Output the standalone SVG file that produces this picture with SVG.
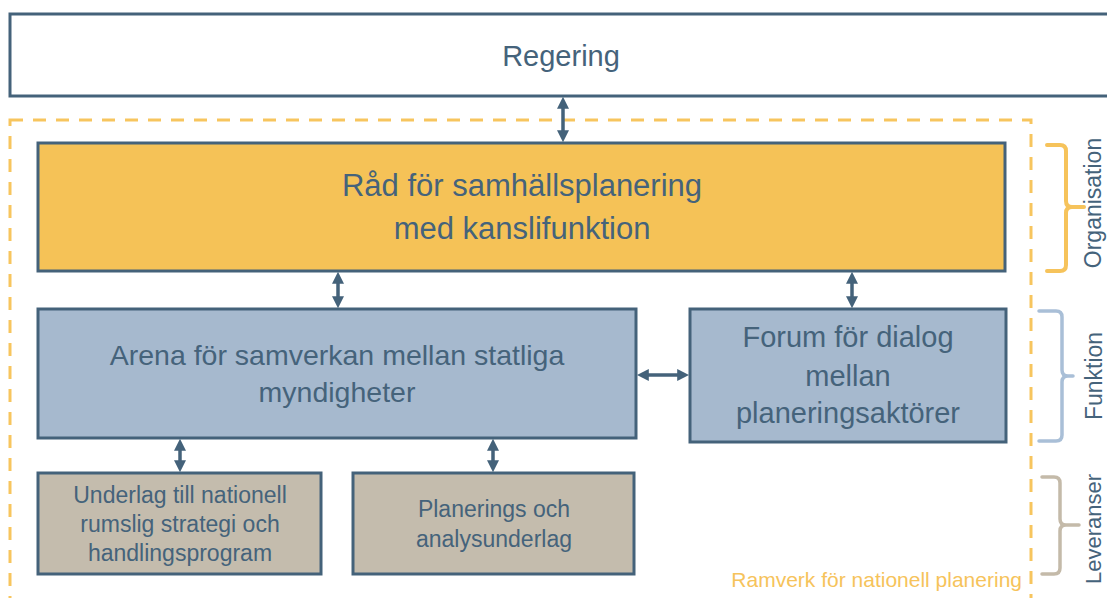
<svg xmlns="http://www.w3.org/2000/svg" width="1107" height="598" viewBox="0 0 1107 598">
<style>
.box{stroke:#44627A;stroke-width:3}
.t{font-family:"Liberation Sans",Arial,sans-serif;fill:#45637B;text-anchor:middle}
.conn{stroke:#44627A;stroke-width:3.5;fill:none}
.br{fill:none;stroke-linecap:round;stroke-linejoin:round}
</style>
<defs>
<marker id="ah" viewBox="0 0 10 10" refX="4" refY="5" markerWidth="12" markerHeight="12" markerUnits="userSpaceOnUse" orient="auto-start-reverse">
<path d="M0,0 L10,5 L0,10 z" fill="#44627A"/>
</marker>
</defs>
<rect width="1107" height="598" fill="#ffffff"/>
<g id="regering">
<rect class="box" x="10" y="14" width="1120" height="82" fill="#ffffff"/>
<text class="t" x="561" y="66" font-size="29">Regering</text>
</g>
<g id="ramverk">
<rect x="10" y="120" width="1021" height="500" fill="none" stroke="#F7C55E" stroke-width="3" stroke-dasharray="13 10"/>
<text x="1022" y="587" font-family="'Liberation Sans',Arial,sans-serif" font-size="21" fill="#F6C35B" text-anchor="end">Ramverk för nationell planering</text>
</g>
<g id="rad">
<rect class="box" x="38" y="143" width="967" height="128" fill="#F5C257"/>
<text class="t" x="522" y="196" font-size="31">Råd för samhällsplanering</text>
<text class="t" x="522" y="239" font-size="31">med kanslifunktion</text>
</g>
<g id="arena">
<rect class="box" x="38" y="309" width="598" height="129" fill="#A6B9CE"/>
<text class="t" x="337" y="365" font-size="28.5">Arena för samverkan mellan statliga</text>
<text class="t" x="337" y="402" font-size="28.5">myndigheter</text>
</g>
<g id="forum">
<rect class="box" x="690" y="309" width="316" height="133" fill="#A6B9CE"/>
<text class="t" x="848" y="347" font-size="29">Forum för dialog</text>
<text class="t" x="848" y="386" font-size="29">mellan</text>
<text class="t" x="848" y="423" font-size="29">planeringsaktörer</text>
</g>
<g id="underlag">
<rect class="box" x="38" y="473" width="283" height="101" fill="#C4BCAD"/>
<text class="t" x="180" y="503" font-size="23">Underlag till nationell</text>
<text class="t" x="180" y="532" font-size="23">rumslig strategi och</text>
<text class="t" x="180" y="561" font-size="23">handlingsprogram</text>
</g>
<g id="planerings">
<rect class="box" x="353" y="473" width="281" height="101" fill="#C4BCAD"/>
<text class="t" x="494" y="517" font-size="23">Planerings och</text>
<text class="t" x="494" y="547" font-size="23">analysunderlag</text>
</g>
<g id="connectors">
<line class="conn" x1="563" y1="104" x2="563" y2="135" marker-start="url(#ah)" marker-end="url(#ah)"/>
<line class="conn" x1="338" y1="279" x2="338" y2="301" marker-start="url(#ah)" marker-end="url(#ah)"/>
<line class="conn" x1="852" y1="279" x2="852" y2="301" marker-start="url(#ah)" marker-end="url(#ah)"/>
<line class="conn" x1="644" y1="375" x2="682" y2="375" marker-start="url(#ah)" marker-end="url(#ah)"/>
<line class="conn" x1="180" y1="446" x2="180" y2="465" marker-start="url(#ah)" marker-end="url(#ah)"/>
<line class="conn" x1="493" y1="446" x2="493" y2="465" marker-start="url(#ah)" marker-end="url(#ah)"/>
</g>
<g id="organisation">
<path class="br" stroke="#F6C35B" stroke-width="4" d="M1047,145 L1060,145 Q1066,145 1066,151 L1066,201 Q1066,207 1072,207 L1084,207 M1072,207 Q1066,207 1066,213 L1066,265 Q1066,271 1060,271 L1047,271"/>
<text class="t" font-size="23" transform="translate(1101,203) rotate(-90)">Organisation</text>
</g>
<g id="funktion">
<path class="br" stroke="#A9BFD7" stroke-width="3.5" d="M1039,311 L1056,311 Q1062,311 1062,317 L1062,370 Q1062,376 1068,376 L1073,376 M1068,376 Q1062,376 1062,382 L1062,435 Q1062,441 1056,441 L1039,441"/>
<text class="t" font-size="23" transform="translate(1102,376) rotate(-90)">Funktion</text>
</g>
<g id="leveranser">
<path class="br" stroke="#C4BAA9" stroke-width="3.5" d="M1042,477 L1054,477 Q1060,477 1060,483 L1060,519 Q1060,525 1066,525 L1079,525 M1066,525 Q1060,525 1060,531 L1060,568 Q1060,574 1054,574 L1042,574"/>
<text class="t" font-size="22" transform="translate(1101,529) rotate(-90)">Leveranser</text>
</g>
</svg>
